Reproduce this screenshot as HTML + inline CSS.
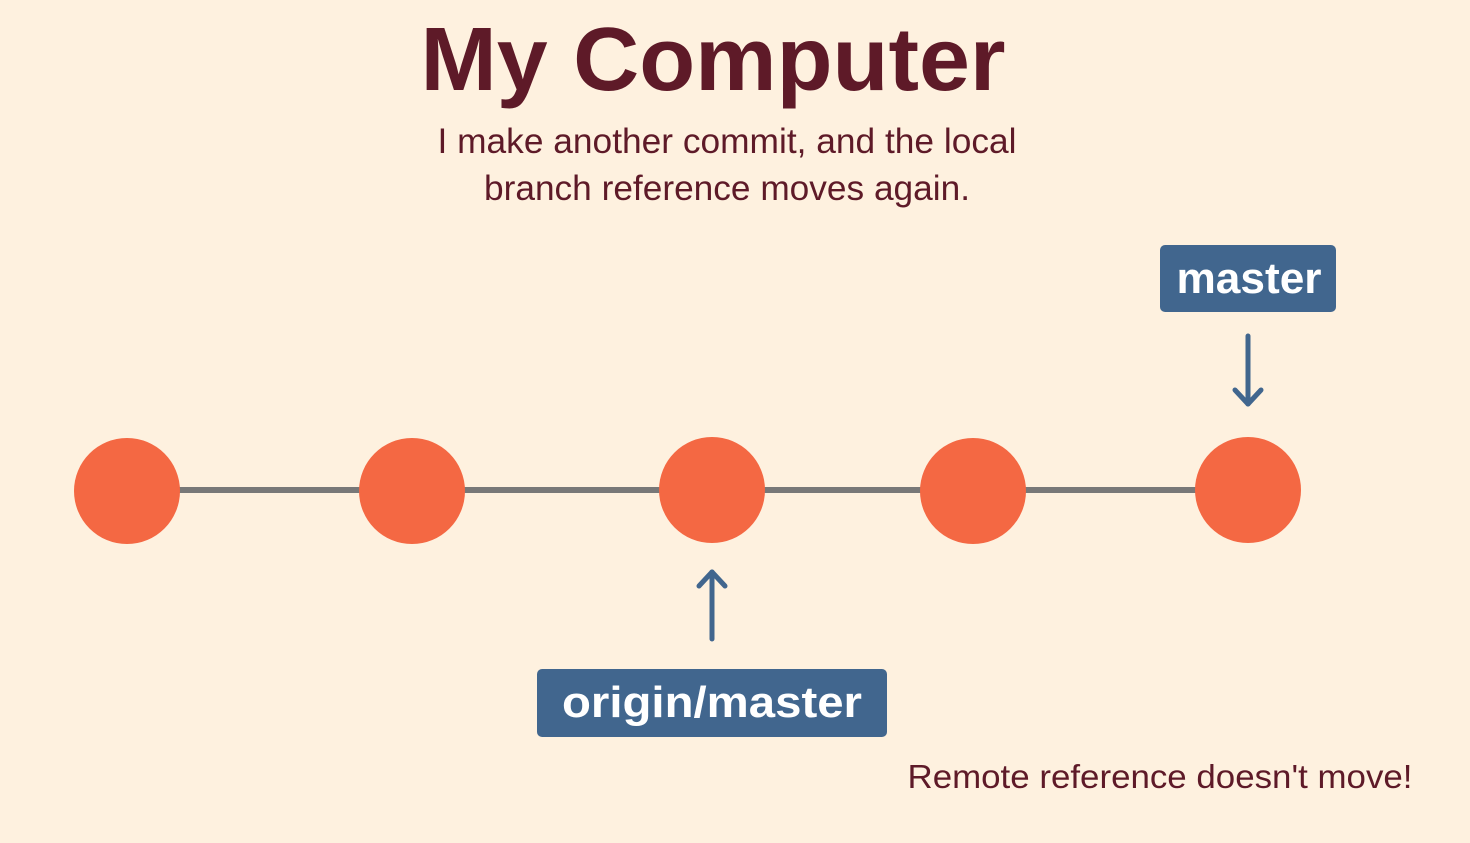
<!DOCTYPE html>
<html><head><style>
html,body{margin:0;padding:0;background:#fef1df;}
svg{display:block}
</style></head><body>
<svg width="1470" height="843" viewBox="0 0 1470 843" xmlns="http://www.w3.org/2000/svg">
<rect width="1470" height="843" fill="#fef1df"/>
<text x="713" y="90" text-anchor="middle" font-family="Liberation Sans, sans-serif" font-weight="bold" font-size="90" fill="#5e1a28" textLength="585" lengthAdjust="spacingAndGlyphs">My Computer</text>
<text x="727" y="153" text-anchor="middle" font-family="Liberation Sans, sans-serif" font-size="35" fill="#5e1a28" textLength="579" lengthAdjust="spacingAndGlyphs">I make another commit, and the local</text>
<text x="727" y="200" text-anchor="middle" font-family="Liberation Sans, sans-serif" font-size="35" fill="#5e1a28" textLength="486" lengthAdjust="spacingAndGlyphs">branch reference moves again.</text>
<line x1="127" y1="490" x2="1248" y2="490" stroke="#787878" stroke-width="6"/>
<g fill="#f46843">
<circle cx="127" cy="491" r="53"/>
<circle cx="412" cy="491" r="53"/>
<circle cx="712" cy="490" r="53"/>
<circle cx="973" cy="491" r="53"/>
<circle cx="1248" cy="490" r="53"/>
</g>
<rect x="1160" y="245" width="176" height="67" rx="5" fill="#41668e"/>
<text x="1249" y="293" text-anchor="middle" font-family="Liberation Sans, sans-serif" font-weight="bold" font-size="44" fill="#fff" textLength="145" lengthAdjust="spacingAndGlyphs">master</text>
<g stroke="#41668e" stroke-width="5" fill="none" stroke-linecap="round" stroke-linejoin="round">
<line x1="1248" y1="336" x2="1248" y2="404"/>
<polyline points="1235,390 1248,404 1261,390"/>
<line x1="712" y1="639" x2="712" y2="572"/>
<polyline points="699,586 712,572 725,586"/>
</g>
<rect x="537" y="669" width="350" height="68" rx="5" fill="#41668e"/>
<text x="712" y="717" text-anchor="middle" font-family="Liberation Sans, sans-serif" font-weight="bold" font-size="44" fill="#fff" textLength="300" lengthAdjust="spacingAndGlyphs">origin/master</text>
<text x="1160" y="788" text-anchor="middle" font-family="Liberation Sans, sans-serif" font-size="33" fill="#5e1a28" textLength="505" lengthAdjust="spacingAndGlyphs">Remote reference doesn't move!</text>
</svg>
</body></html>
